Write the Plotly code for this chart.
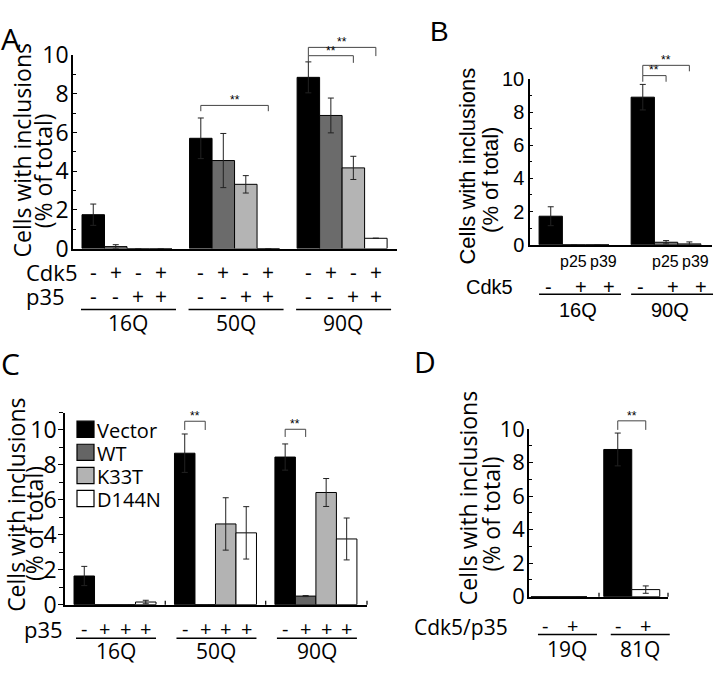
import plotly.graph_objects as go

W, H = 720, 679

# ---------------- data ----------------
# Panel A
a_groups = ["16Q", "50Q", "90Q"]
a_cdk5 = ["-", "+", "-", "+"]
a_p35 = ["-", "-", "+", "+"]
a_series = ["Cdk5-/p35-", "Cdk5+/p35-", "Cdk5-/p35+", "Cdk5+/p35+"]
a_vals = [[1.75, 5.7, 8.85], [0.1, 4.55, 6.88], [0.0, 3.32, 4.17], [0.0, 0.0, 0.53]]
a_errs = [[0.55, 1.05, 0.8], [0.1, 1.4, 0.9], [0.0, 0.45, 0.6], [0.0, 0.0, 0.0]]
# (group, bar_from, bar_to, top, left_leg_end, right_leg_end)
a_sig = [(1, 0, 3, 7.4, 7.1, 7.1), (2, 0, 2, 9.97, 9.62, 9.6), (2, 0, 3, 10.4, 9.97, 9.95)]

# Panel B
b_groups = ["16Q", "90Q"]
b_cdk5 = ["-", "+", "+"]
b_sub = ["", "p25", "p39"]
b_vals = [[1.72, 8.9], [0.0, 0.15], [0.0, 0.05]]
b_errs = [[0.57, 0.77], [0.0, 0.1], [0.0, 0.12]]
b_sig = [(1, 0, 1, 10.2, 9.83, 9.83), (1, 0, 2, 10.82, 10.2, 10.46)]

# Panel C
c_groups = ["16Q", "50Q", "90Q"]
c_p35 = ["-", "+", "+", "+"]
c_series = ["Vector", "WT", "K33T", "D144N"]
c_vals = [[1.64, 8.67, 8.45], [0.0, 0.0, 0.49], [0.0, 4.62, 6.42], [0.15, 4.11, 3.76]]
c_errs = [[0.55, 1.1, 0.75], [0.0, 0.0, 0.03], [0.0, 1.5, 0.8], [0.1, 1.5, 1.2]]
c_sig = [(1, 0, 1, 10.5, 10.0, 10.0), (2, 0, 1, 10.04, 9.6, 9.6)]

# Panel D
d_groups = ["19Q", "81Q"]
d_signs = ["-", "+"]
d_vals = [[0.0, 8.79], [0.0, 0.42]]
d_errs = [[0.0, 0.98], [0.0, 0.22]]
d_sig = [(1, 0, 1, 10.5, 9.96, 9.96)]

y_ticks = [0, 2, 4, 6, 8, 10]

# ---------------- geometry / style ----------------
MY = "Open Sans"
AR = "Liberation Sans"
P = {
    "A": dict(xl=73, xr=397, unit=22.5, start=0.4, step=4.78, y0=243, yu=20.3, ymax=10, n=1),
    "B": dict(xl=530, xr=712, unit=23.3, start=0.39, step=3.95, y0=239, yu=17.4, ymax=10, n=2),
    "C": dict(xl=65, xr=367, unit=20.5, start=0.44, step=4.9, y0=616.7, yu=18.33, ymax=11, n=3),
    "D": dict(xl=529, xr=668, unit=28, start=0.07, step=2.6, y0=608.3, yu=17.57, ymax=10, n=4),
}


def fx(px):
    return px / W


def fy(py):
    return 1 - py / H


def bx(p, g, i):
    return p["start"] + g * p["step"] + i + 0.5


def pxx(p, xv):
    return p["xl"] + xv * p["unit"]


def pxy(p, yv):
    return p["y0"] - yv * p["yu"]


fig = go.Figure()
shapes = []
ann = []


def txt(x, y, s, size, family=MY, xanchor="center", yanchor="middle", angle=0):
    ann.append(dict(x=fx(x), y=fy(y), xref="paper", yref="paper", text=s, showarrow=False,
                    font=dict(size=size, family=family, color="black"),
                    xanchor=xanchor, yanchor=yanchor, textangle=angle, borderpad=0))


def line(x0, y0, x1, y1, color="black", w=1.5):
    shapes.append(dict(type="line", xref="paper", yref="paper", x0=fx(x0), y0=fy(y0),
                       x1=fx(x1), y1=fy(y1), line=dict(color=color, width=w)))


def add_bars(p, vals, errs, colors, names):
    n = p["n"]
    xa = "x" if n == 1 else f"x{n}"
    ya = "y" if n == 1 else f"y{n}"
    for s in range(len(vals)):
        err = [e if e > 0 else None for e in errs[s]]
        fig.add_trace(go.Bar(
            x=[bx(p, g, s) for g in range(len(vals[s]))], y=vals[s], width=1.0,
            name=names[s], xaxis=xa, yaxis=ya, showlegend=False,
            marker=dict(color=colors[s], line=dict(color="black", width=1)),
            error_y=dict(type="data", array=err, visible=True, color="#222",
                         thickness=1, width=3)))


layout_axes = {}


def axes(p, tickfont, tickdir, ticklen, standoff=0):
    n = p["n"]
    xname = "xaxis" if n == 1 else f"xaxis{n}"
    yname = "yaxis" if n == 1 else f"yaxis{n}"
    xid = "x" if n == 1 else f"x{n}"
    yid = "y" if n == 1 else f"y{n}"
    xr_units = (p["xr"] - p["xl"]) / p["unit"]
    layout_axes[xname] = dict(domain=[fx(p["xl"]), fx(p["xr"])], range=[0, xr_units],
                              showline=True, linecolor="black", linewidth=2,
                              showticklabels=False, ticks="", showgrid=False,
                              zeroline=False, anchor=yid, fixedrange=True)
    layout_axes[yname] = dict(domain=[fy(p["y0"]), fy(pxy(p, p["ymax"]))],
                              range=[0, p["ymax"]], showline=True, linecolor="black",
                              linewidth=1.5, showgrid=False, zeroline=False, anchor=xid,
                              tickvals=y_ticks, ticktext=[str(v) for v in y_ticks],
                              ticks=tickdir, ticklen=ticklen, tickwidth=1.2,
                              tickcolor="black", tickfont=tickfont,
                              ticklabelstandoff=standoff,
                              minor=dict(dtick=1, ticks=tickdir, ticklen=ticklen - 1,
                                         tickcolor="black", tickwidth=1, showgrid=False),
                              fixedrange=True)


def brackets(p, sigs, color="#444"):
    for g, i, j, top, l_end, r_end in sigs:
        xa = pxx(p, bx(p, g, i))
        xb = pxx(p, bx(p, g, j))
        yt = pxy(p, top)
        line(xa, yt, xb, yt, color, 1)
        line(xa, yt, xa, pxy(p, l_end), color, 1)
        line(xb, yt, xb, pxy(p, r_end), color, 1)
        txt((xa + xb) / 2, yt + 3, "**", 12, AR, yanchor="bottom")


# ---------------- Panel A ----------------
pA = P["A"]
add_bars(pA, a_vals, a_errs, ["#000000", "#6b6b6b", "#b4b4b4", "#ffffff"], a_series)
axes(pA, dict(size=23, family=MY, color="black"), "inside", 4, -2)
brackets(pA, a_sig)
txt(10, 23, "A", 30)
txt(22, 140, "Cells with inclusions", 23, angle=-90)
txt(43, 162, "(% of total)", 23, angle=-90)
txt(25, 268, "Cdk5", 22, xanchor="left")
txt(25, 293, "p35", 22, xanchor="left")
for g, name in enumerate(a_groups):
    for i in range(4):
        cx = pxx(pA, bx(pA, g, i))
        txt(cx, 268, a_cdk5[i], 21)
        txt(cx, 293, a_p35[i], 21)
    x0 = pxx(pA, bx(pA, g, 0) - 0.5)
    x1 = pxx(pA, bx(pA, g, 3) + 0.5)
    line(x0 - 1, 307, x1 + 4, 307, "black", 1.5)
    txt((x0 + x1) / 2 + 1, 321, name, 21)

# ---------------- Panel B ----------------
pB = P["B"]
add_bars(pB, b_vals, b_errs, ["#000000", "#777777", "#c0c0c0"], ["none", "p25", "p39"])
axes(pB, dict(size=20, family=AR, color="black"), "inside", 3)
brackets(pB, b_sig)
txt(439, 15, "B", 28, AR)
txt(468, 157, "Cells with inclusions", 22, AR, angle=-90)
txt(491, 171, "(% of total)", 22, AR, angle=-90)
txt(465, 283, "Cdk5", 20, AR, xanchor="left")
b_sign_off = [-2, 7, 11.5]
b_sub_off = [0, -1, 6.5]
for g, name in enumerate(b_groups):
    for i in range(3):
        cx = pxx(pB, bx(pB, g, i))
        if b_sub[i]:
            txt(cx + b_sub_off[i], 257, b_sub[i], 16, AR)
        txt(cx + b_sign_off[i], 283, b_cdk5[i], 20, AR)
    x0 = pxx(pB, bx(pB, g, 0) - 0.5)
    x1 = pxx(pB, bx(pB, g, 2) + 0.5)
    line(x0, 291, x1 + 12, 291, "black", 1.5)
    txt((x0 + x1) / 2 + 4, 308, name, 20, AR)

# ---------------- Panel C ----------------
pC = P["C"]
c_colors = ["#000000", "#656565", "#b3b3b3", "#ffffff"]
add_bars(pC, c_vals, c_errs, c_colors, c_series)
axes(pC, dict(size=23, family=MY, color="black"), "outside", 5, -3)
brackets(pC, c_sig)
txt(10, 364, "C", 30)
txt(16, 512, "Cells with inclusions", 23, angle=-90)
txt(34, 532, "(% of total)", 23, angle=-90)
for k, name in enumerate(c_series):
    yc = 432.7 + k * 24.2
    shapes.append(dict(type="rect", xref="paper", yref="paper", x0=fx(77), x1=fx(94),
                       y0=fy(yc + 8.5), y1=fy(yc - 8.5), fillcolor=c_colors[k],
                       line=dict(color="black", width=1.2)))
    txt(96, yc + 1, name, 20, xanchor="left")
txt(23, 642, "p35", 22, xanchor="left")
for g, name in enumerate(c_groups):
    for i in range(4):
        cx = pxx(pC, bx(pC, g, i))
        txt(cx, 642, c_p35[i], 20)
    x0 = pxx(pC, bx(pC, g, 0) - 0.5)
    x1 = pxx(pC, bx(pC, g, 3) + 0.5)
    line(x0 + 2, 652, x1, 652, "black", 1.5)
    txt((x0 + x1) / 2 + 1, 665, name, 21)
    if g > 0:
        xs = pxx(pC, bx(pC, g, 0) - 0.5 - (pC["step"] - 4) / 2)
        line(xs, pC["y0"], xs, pC["y0"] - 4, "black", 1.2)
line(pC["xr"], pC["y0"], pC["xr"], pC["y0"] - 4, "black", 1.2)

# ---------------- Panel D ----------------
pD = P["D"]
add_bars(pD, d_vals, d_errs, ["#000000", "#ffffff"], ["-", "+"])
axes(pD, dict(size=22, family=MY, color="black"), "inside", 4, -2)
brackets(pD, d_sig)
txt(425, 362, "D", 30)
txt(468, 505, "Cells with inclusions", 23, angle=-90)
txt(491, 522, "(% of total)", 23, angle=-90)
txt(413, 640, "Cdk5/p35", 21, xanchor="left")
for g, name in enumerate(d_groups):
    for i in range(2):
        cx = pxx(pD, bx(pD, g, i))
        txt(cx, 639, d_signs[i], 20)
    x0 = pxx(pD, bx(pD, g, 0) - 0.5)
    x1 = pxx(pD, bx(pD, g, 1) + 0.5)
    line(x0 + 7, 648, x1 + 10, 648, "black", 1.5)
    txt((x0 + x1) / 2 + 8, 663, name, 21)
line(599, pD["y0"], 599, pD["y0"] - 4, "black", 1.2)
line(pD["xr"], pD["y0"], pD["xr"], pD["y0"] - 4, "black", 1.2)

fig.update_layout(
    width=W, height=H, autosize=False,
    margin=dict(l=0, r=0, t=0, b=0, pad=0),
    paper_bgcolor="white", plot_bgcolor="white",
    barmode="overlay", showlegend=False,
    shapes=shapes, annotations=ann,
    font=dict(family=MY, color="black"),
    **layout_axes,
)

fig.write_html("out.html", config={"displayModeBar": False},
               post_script="document.body.style.margin='0';")
